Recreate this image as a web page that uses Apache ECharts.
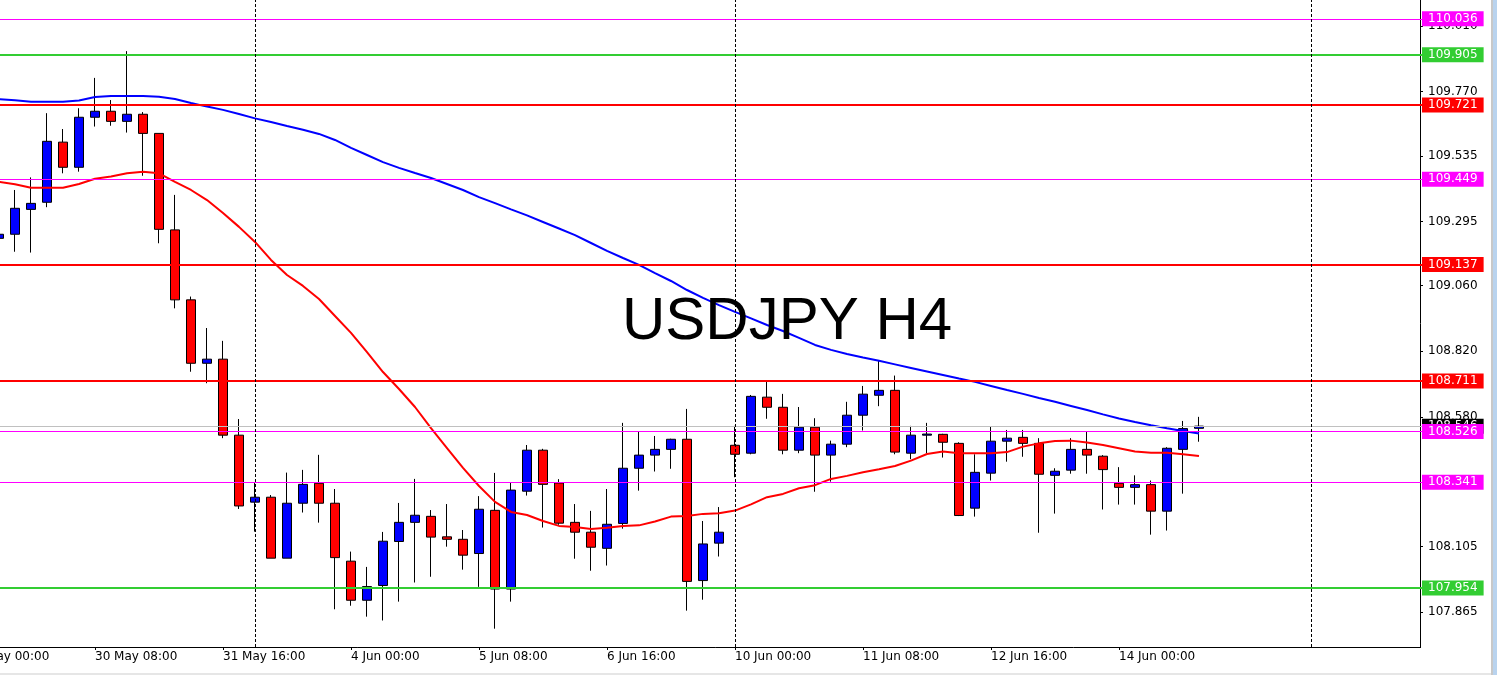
<!DOCTYPE html>
<html><head><meta charset="utf-8">
<script src="https://cdn.jsdelivr.net/npm/echarts@6/dist/echarts.min.js"></script>
<style>html,body{margin:0;padding:0;background:#fff;overflow:hidden}#c{width:1497px;height:675px}</style>
</head><body><div id="c"></div>
<script>
// ---- data ----
const days = ['29 May','30 May','31 May','3 Jun','4 Jun','5 Jun','6 Jun','7 Jun','10 Jun','11 Jun','12 Jun','13 Jun','14 Jun','15 Jun','16 Jun','17 Jun'];
const hours = ['00:00','04:00','08:00','12:00','16:00','20:00'];
const candleStart = '29 May 08:00';
const opens = [109.233,109.248,109.339,109.365,109.585,109.493,109.676,109.698,109.661,109.687,
109.617,109.264,109.008,108.776,108.791,108.513,108.268,108.286,108.063,108.264,
108.337,108.264,108.052,107.909,107.963,108.124,108.194,108.216,108.141,108.132,
108.080,108.238,107.950,108.308,108.458,108.338,108.194,108.158,108.099,108.190,
108.392,108.440,108.461,108.498,107.981,108.118,108.476,108.447,108.652,108.615,
108.458,108.542,108.440,108.480,108.586,108.659,108.677,108.447,108.513,108.516,
108.483,108.246,108.374,108.491,108.505,108.483,108.366,108.385,108.461,108.436,
108.337,108.322,108.332,108.235,108.461,108.538];
const closes = [109.248,109.343,109.361,109.588,109.493,109.676,109.698,109.661,109.687,109.617,
109.266,109.008,108.776,108.791,108.513,108.254,108.286,108.063,108.264,108.333,
108.264,108.065,107.909,107.959,108.125,108.194,108.220,108.140,108.132,108.074,
108.242,107.950,108.312,108.458,108.333,108.191,108.158,108.103,108.187,108.392,
108.440,108.461,108.498,107.978,108.115,108.158,108.443,108.655,108.615,108.458,
108.542,108.440,108.480,108.586,108.663,108.677,108.451,108.513,108.517,108.487,
108.219,108.377,108.491,108.502,108.483,108.370,108.381,108.461,108.440,108.387,
108.322,108.332,108.235,108.465,108.537,108.546];
const lows = [109.223,109.184,109.181,109.347,109.471,109.477,109.642,109.645,109.620,109.462,
109.215,108.977,108.745,108.703,108.502,108.243,108.160,108.063,108.063,108.230,
108.193,107.876,107.889,107.849,107.835,107.904,107.974,107.995,108.105,108.021,
107.958,107.805,107.904,108.292,108.175,108.185,108.061,108.017,108.036,108.171,
108.310,108.380,108.390,107.871,107.911,108.069,108.359,108.443,108.573,108.443,
108.447,108.306,108.343,108.469,108.530,108.619,108.443,108.425,108.447,108.431,
108.217,108.215,108.347,108.416,108.434,108.156,108.226,108.372,108.372,108.241,
108.259,108.259,108.149,108.164,108.299,108.489];
const highs = [109.260,109.410,109.456,109.691,109.633,109.709,109.820,109.739,109.918,109.695,
109.617,109.392,109.020,108.905,108.858,108.572,108.339,108.294,108.376,108.386,
108.441,108.316,108.087,108.031,108.159,108.265,108.353,108.239,108.261,108.166,
108.290,108.375,108.339,108.477,108.463,108.352,108.261,108.236,108.316,108.558,
108.528,108.510,108.500,108.609,108.199,108.250,108.547,108.660,108.709,108.664,
108.616,108.575,108.493,108.635,108.693,108.788,108.731,108.547,108.558,108.518,
108.487,108.443,108.543,108.532,108.532,108.502,108.392,108.502,108.528,108.440,
108.396,108.366,108.347,108.469,108.565,108.580];
const maFast = [109.440,109.431,109.418,109.418,109.418,109.432,109.451,109.459,109.471,109.477,
109.471,109.440,109.410,109.373,109.326,109.275,109.220,109.154,109.099,109.059,
109.011,108.949,108.887,108.817,108.744,108.682,108.616,108.539,108.466,108.393,
108.327,108.269,108.232,108.221,108.199,108.181,108.177,108.170,108.174,108.181,
108.183,108.197,108.215,108.217,108.225,108.227,108.237,108.260,108.286,108.298,
108.319,108.330,108.353,108.364,108.377,108.388,108.400,108.420,108.444,108.453,
108.447,108.447,108.447,108.451,108.471,108.483,108.492,108.493,108.486,108.477,
108.465,108.453,108.449,108.449,108.443,108.437];
const maSlow = [109.742,109.738,109.733,109.733,109.733,109.737,109.750,109.754,109.754,109.754,
109.751,109.743,109.728,109.715,109.703,109.688,109.672,109.659,109.644,109.630,
109.615,109.593,109.564,109.538,109.512,109.491,109.472,109.454,109.432,109.410,
109.384,109.362,109.339,109.317,109.293,109.269,109.245,109.216,109.187,109.161,
109.136,109.106,109.077,109.044,109.015,108.989,108.964,108.940,108.916,108.894,
108.869,108.843,108.825,108.810,108.797,108.785,108.772,108.759,108.746,108.733,
108.720,108.708,108.693,108.678,108.664,108.649,108.635,108.620,108.605,108.589,
108.574,108.561,108.549,108.538,108.528,108.519];
const levels = [110.036,109.905,109.721,109.449,109.137,108.711,108.526,108.341,107.954];
const levelKinds = ['magenta','green','red','magenta','red','red','magenta','magenta','green'];
const bidPrice = 108.546;
const separators = ['3 Jun 00:00','10 Jun 00:00','16 Jun 00:00'];
const yTicks = [110.010,109.770,109.535,109.295,109.060,108.820,108.580,108.340,108.105,107.865];
const yMin = 107.738, yMax = 110.105;

// ---- build ----
const categories = [];
days.forEach(d => hours.forEach(h => categories.push(d + ' ' + h)));
categories.length = 92;
const off = categories.indexOf(candleStart);
const lastCandleCat = off + opens.length - 1;
const pad = arr => categories.map((_, k) => { const i = k - off; return (i >= 0 && i < arr.length) ? arr[i] : '-'; });
const candleData = categories.map((_, k) => { const i = k - off; return (i >= 0 && i < opens.length) ? [opens[i], closes[i], lows[i], highs[i]] : '-'; });
const showTimeLabel = idx => idx % 8 === 0 && idx <= lastCandleCat;

const kindStyle = {
  magenta: {color: '#ff00ff', width: 1},
  green: {color: '#32cd32', width: 2},
  red: {color: '#ff0000', width: 2}
};
const FONT = 'DejaVu Sans';
const boxLabel = bg => ({show: true, position: 'end', distance: -9, color: '#fff', backgroundColor: bg,
  fontFamily: FONT, fontSize: 12, lineHeight: 15, padding: [0, 6, 0, 6],
  formatter: p => Number(p.value).toFixed(3)});

const markData = [{yAxis: bidPrice, lineStyle: {color: '#c0c0c0', width: 1, type: 'solid'}, label: boxLabel('#000000')}];
levels.forEach((v, i) => {
  const s = kindStyle[levelKinds[i]];
  markData.push({yAxis: v, lineStyle: {color: s.color, width: s.width, type: 'solid'}, label: boxLabel(s.color)});
});
separators.forEach(c => markData.push({xAxis: c, lineStyle: {color: '#000', width: 1, type: [3, 2]}, label: {show: false}}));

const chart = echarts.init(document.getElementById('c'), null, {renderer: 'canvas'});
chart.setOption({
  animation: false,
  backgroundColor: '#ffffff',
  title: {text: 'USDJPY H4', left: 622, top: 292, padding: 0,
    textStyle: {fontFamily: 'Liberation Sans, Arial', fontSize: 60, fontWeight: 'normal', color: '#000'}},
  grid: {left: -41, right: 66, top: 0, bottom: 28, containLabel: false, outerBoundsMode: 'none'},
  xAxis: {type: 'category', data: categories, boundaryGap: true,
    axisLine: {show: true, lineStyle: {color: '#000', width: 1}},
    axisTick: {show: true, alignWithLabel: true, interval: showTimeLabel, length: 3, lineStyle: {color: '#000'}},
    axisLabel: {interval: showTimeLabel, align: 'left', color: '#000', fontFamily: FONT, fontSize: 12, margin: 4},
    splitLine: {show: false}},
  yAxis: {type: 'value', position: 'right', offset: -11, min: yMin, max: yMax,
    splitLine: {show: false},
    axisLine: {show: true, lineStyle: {color: '#000', width: 1}},
    axisTick: {show: true, length: 3, customValues: yTicks, lineStyle: {color: '#000'}},
    axisLabel: {customValues: yTicks, formatter: v => Number(v).toFixed(3), color: '#000',
      fontFamily: FONT, fontSize: 12, margin: 8}},
  series: [
    {type: 'candlestick', data: candleData, barWidth: 9,
      itemStyle: {color: '#0000ff', color0: '#ff0000', borderColor: '#000', borderColor0: '#000', borderColorDoji: '#000', borderWidth: 1}},
    {type: 'line', data: pad(maFast), symbol: 'none', showSymbol: false,
      lineStyle: {color: '#ff0000', width: 2}, itemStyle: {color: '#ff0000'}},
    {type: 'line', data: pad(maSlow), symbol: 'none', showSymbol: false,
      lineStyle: {color: '#0000ff', width: 2}, itemStyle: {color: '#0000ff'},
      markLine: {silent: true, symbol: ['none', 'none'], animation: false, precision: 3, data: markData}}
  ],
  graphic: [
    {type: 'rect', z: 100, shape: {x: 1421, y: 645, width: 12, height: 5}, style: {fill: '#ffffff'}, silent: true},
    {type: 'rect', z: 100, shape: {x: 1491, y: 0, width: 2, height: 675}, style: {fill: '#c8c8c8'}, silent: true},
    {type: 'rect', z: 100, shape: {x: 1493, y: 0, width: 4, height: 675}, style: {fill: '#b9d3ee'}, silent: true},
    {type: 'rect', z: 100, shape: {x: 0, y: 673, width: 1491, height: 2}, style: {fill: '#e6e6e6'}, silent: true}
  ]
});
</script></body></html>
